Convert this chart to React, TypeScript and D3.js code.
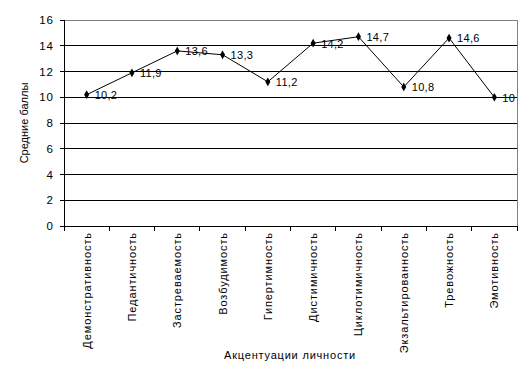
import React from "react";
import * as d3 from "d3";

const categories = [
  "Демонстративность",
  "Педантичность",
  "Застреваемость",
  "Возбудимость",
  "Гипертимность",
  "Дистимичность",
  "Циклотимичность",
  "Экзальтированность",
  "Тревожность",
  "Эмотивность",
];
const values = [10.2, 11.9, 13.6, 13.3, 11.2, 14.2, 14.7, 10.8, 14.6, 10];
const yTicks = [0, 2, 4, 6, 8, 10, 12, 14, 16];
const yTitle = "Средние баллы";
const xTitle = "Акцентуации личности";

export default function App() {
  const W = 530, H = 377;
  const left = 64, right = 517, top = 20, bottom = 226;
  const x = d3.scaleBand<string>().domain(categories).range([left, right]);
  const y = d3.scaleLinear().domain([0, 16]).range([bottom, top]);
  const line = d3
    .line<number>()
    .x((_, i) => (x(categories[i]) as number) + x.bandwidth() / 2)
    .y((d) => y(d));
  const sym = d3.symbol().type(d3.symbolDiamond).size(22)();
  const font = "'Liberation Sans', Arial, sans-serif";
  const edges = categories.map((c) => x(c) as number).concat([right]);
  return (
    <svg width={W} height={H} style={{ position: "absolute", left: 0, top: 0, background: "#fff" }} fontFamily={font}>
      {yTicks.map((t) => (
        <g key={t}>
          <line x1={left} x2={right} y1={y(t)} y2={y(t)} stroke={t === 16 ? "#808080" : "#000"} strokeWidth={1} shapeRendering="crispEdges" />
          <line x1={left - 4} x2={left} y1={y(t)} y2={y(t)} stroke="#000" shapeRendering="crispEdges" />
          <text x={left - 10} y={y(t)} dy="0.35em" textAnchor="end" fontSize={11.5} letterSpacing={1}>{t}</text>
        </g>
      ))}
      <line x1={right} x2={right} y1={top} y2={bottom} stroke="#808080" shapeRendering="crispEdges" />
      <line x1={left} x2={left} y1={top} y2={bottom} stroke="#000" shapeRendering="crispEdges" />
      <line x1={left} x2={right} y1={bottom} y2={bottom} stroke="#000" shapeRendering="crispEdges" />
      {edges.map((e, i) => (
        <line key={i} x1={e} x2={e} y1={bottom} y2={bottom + 5} stroke="#000" shapeRendering="crispEdges" />
      ))}
      {categories.map((c) => {
        const cx = (x(c) as number) + x.bandwidth() / 2;
        return (
          <text key={c} transform={`translate(${cx + 4},${bottom + 6}) rotate(-90)`} textAnchor="end" fontSize={11} letterSpacing={0.9}>{c}</text>
        );
      })}
      <path d={line(values) || ""} fill="none" stroke="#000" strokeWidth={1} />
      {values.map((v, i) => {
        const cx = (x(categories[i]) as number) + x.bandwidth() / 2;
        return (
          <g key={i}>
            <path d={sym || ""} transform={`translate(${cx},${y(v)})`} fill="#000" />
            <text x={cx + 8} y={y(v)} dy="0.4em" fontSize={11} letterSpacing={0.3}>{String(v).replace(".", ",")}</text>
          </g>
        );
      })}
      <text transform={`translate(28,${(top + bottom) / 2}) rotate(-90)`} textAnchor="middle" fontSize={11}>{yTitle}</text>
      <text x={290} y={359} textAnchor="middle" fontSize={11} letterSpacing={0.8}>{xTitle}</text>
    </svg>
  );
}
